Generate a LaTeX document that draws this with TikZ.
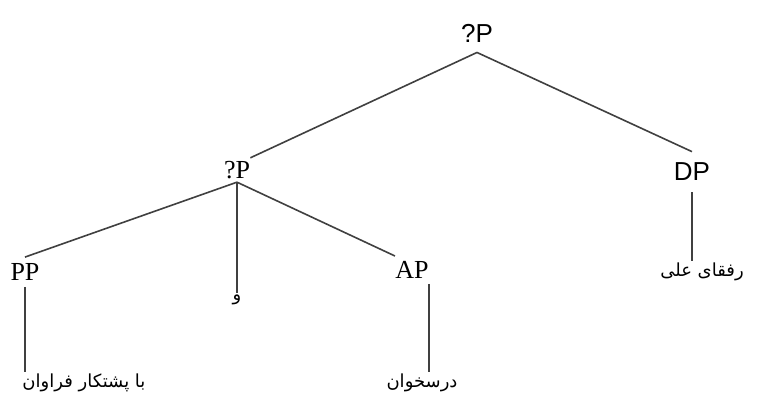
\documentclass[tikz,border=0pt]{standalone}
\usepackage{fontspec}
\setmainfont{Liberation Serif}
\newfontfamily\arialfont{Liberation Sans}
\newfontfamily\farsifont[Script=Arabic]{DejaVu Sans}
\TeXXeTstate=1

\begin{document}
\begin{tikzpicture}[x=0.5pt, y=-0.5pt,
    sanslabel/.style={font=\arialfont\fontsize{13}{15}\selectfont, inner xsep=0pt},
    seriflabel/.style={font=\fontsize{13}{15}\selectfont, inner xsep=0pt},
    farsiword/.style={font=\farsifont\fontsize{9}{11}\selectfont, inner sep=1pt},
    branch/.style={draw=black!75, line width=0.8pt}]
  \useasboundingbox[fill=white] (0,0) rectangle (784,394);
  % phrase labels
  \node[sanslabel, inner ysep=5pt] (root) at (477,33) {?P};
  \node[seriflabel, inner ysep=1.5pt] (mid) at (237,170) {?P};
  \node[sanslabel, inner ysep=5.5pt] (DP) at (692,172) {DP};
  \node[seriflabel, inner ysep=3pt] (PP) at (25,272) {PP};
  \node[seriflabel, inner ysep=2.5pt] (AP) at (412,270) {AP};
  % words
  \node[farsiword] (ppword) at (84,383) {\farsifont\beginR با پشتکار فراوان\endR};
  \node[farsiword] (waw) at (237,300) {\farsifont\beginR و\endR};
  \node[farsiword] (apword) at (422,383) {\farsifont\beginR درسخوان\endR};
  \node[farsiword] (dpword) at (702,272) {\farsifont\beginR رفقای علی\endR};
  % branches
  \draw[branch] (root.south) -- (mid.north east);
  \draw[branch] (root.south) -- (DP.north);
  \draw[branch] (mid.south) -- (PP.north);
  \draw[branch] (mid.south) -- (waw.north);
  \draw[branch] (mid.south) -- (AP.north west);
  \draw[branch] (DP.south) -- (DP.south |- dpword.north);
  \draw[branch] (PP.south) -- (PP.south |- ppword.north);
  \draw[branch] (AP.south east) -- (AP.south east |- apword.north);
\end{tikzpicture}
\end{document}
